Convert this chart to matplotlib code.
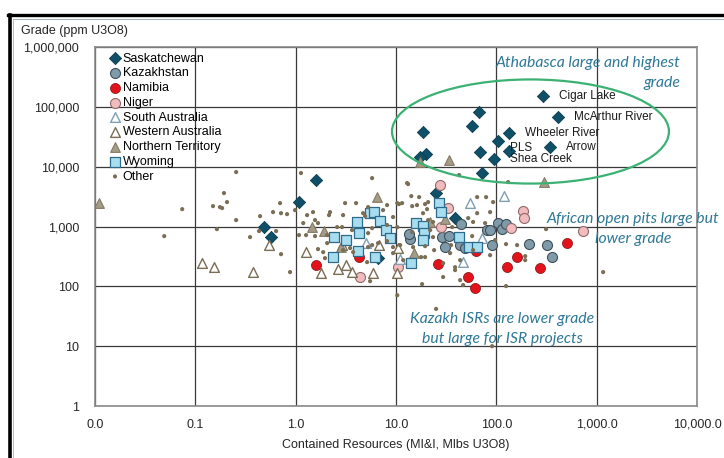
import matplotlib
matplotlib.use("Agg")
import matplotlib.pyplot as plt
from matplotlib.patches import Ellipse
from matplotlib.lines import Line2D

plt.rcParams['font.family'] = ['Liberation Sans', 'DejaVu Sans']

# ---- data (Mlbs U3O8 contained, grade ppm U3O8) ----
sask_x = [1.6, 1.08, 0.48, 0.57, 6.6, 25, 39, 18.6, 20, 17.5, 57, 67, 69, 72, 104,
          95, 134, 134, 293, 413, 344]
sask_y = [6000, 2560, 980, 665, 300, 3600, 1400, 38000, 16000, 14500, 47000, 82000, 17500, 7800, 27000,
          13400, 36500, 18200, 150000, 67500, 21300]
# names of the last six Saskatchewan deposits
sask_names = ['Shea Creek', 'Wheeler River', 'PLS', 'Cigar Lake', 'McArthur River', 'Arrow']

kaz_x = [13.8, 13.6, 29, 34, 31, 43, 44, 49, 81, 87, 91, 104, 114, 125, 212, 320, 360]
kaz_y = [615, 750, 665, 690, 450, 490, 1100, 435, 870, 870, 490, 1140, 900, 1100, 510, 490, 310]

nam_x = [1.6, 4.3, 26, 52, 62, 63, 128, 161, 273, 508]
nam_y = [225, 310, 235, 143, 93, 390, 210, 310, 200, 530]

nig_x = [27.5, 33, 28, 10.5, 4.4, 185, 189, 141, 730]
nig_y = [4900, 2000, 1000, 210, 143, 1800, 1400, 940, 840]

sa_x = [55, 120, 47, 72, 11, 5]
sa_y = [2450, 3200, 255, 640, 285, 530]

wa_x = [0.117, 0.152, 0.38, 0.54, 1.27, 1.8, 2.65, 3.2, 3.65, 5.9, 6.8, 10.3, 10.5, 2.9]
wa_y = [245, 210, 173, 490, 375, 166, 195, 225, 173, 166, 490, 166, 435, 490]

nt_x = [0.011, 1.46, 1.9, 2.8, 6.5, 15, 17.4, 34, 22, 31, 300]
nt_y = [2460, 1000, 840, 450, 3100, 360, 12000, 13000, 1200, 1330, 5500]

wy_x = [2.36, 2.4, 3.2, 4.1, 4.3, 4.2, 5.5, 6.0, 6.9, 8.0, 8.7, 6.2, 16, 18.6, 19, 18.6, 14,
        27, 28, 42, 54, 64]
wy_y = [310, 665, 590, 1180, 775, 390, 1680, 1750, 1230, 870, 640, 310, 1140, 1020, 775, 590, 245,
        2450, 1750, 665, 450, 450]

oth_x = [0.049, 0.074, 0.150, 0.176, 0.185, 0.193, 0.207, 0.164, 0.255, 0.255, 0.351, 0.442, 0.432,
         0.638, 0.595, 0.699, 0.715, 0.821, 0.715, 0.879, 1.13, 0.986, 1.08, 1.27, 1.19, 1.30, 1.49,
         1.56, 1.67, 1.56, 1.67, 1.88, 1.96, 2.20, 2.15, 2.06, 2.59, 3.11, 4.00, 2.97, 4.92, 5.27,
         5.78, 2.90, 2.06, 3.49, 3.74, 5.27, 5.15, 5.52, 8.15, 10.3, 10.7, 8.15, 6.63, 9.35, 9.35,
         10.3, 14.2, 17.0, 14.5, 19.5, 18.6, 20.9, 23.4, 24.0, 29.5, 29.5, 18.2, 25.1, 13.2, 19.5,
         11.0, 11.8, 17.8, 35.4, 43.6, 38.8, 43.6, 58.7, 57.4, 64.4, 79.1, 64.4, 5.78, 12.9, 11.5,
         20.9, 16.2, 20.4, 4.70, 7.43, 9.35, 8.15, 10.3, 23.4, 14.5, 21.9, 36.3, 14.8, 19.5, 34.6,
         38.8, 46.7, 5.27, 5.78, 3.65, 2.97, 42.6, 131, 92.9, 86.7, 52.4, 58.7, 313, 125, 161, 194,
         194, 86.7, 125, 77.3, 97.3, 1160, 90.8]
oth_y = [691, 1950, 2190, 2110, 2030, 3620, 2560, 905, 1280, 8130, 665, 1490, 838,
         838, 1740, 2460, 1670, 1610, 345, 173, 7820, 1880, 718, 718, 1140, 1550, 1740,
         1280, 1140, 691, 419, 373, 296, 1740, 1550, 718, 977, 2460, 2460, 1550, 1490, 2110,
         940, 977, 528, 436, 373, 453, 254, 122, 2280, 2460, 2370, 570, 528, 453, 359,
         71, 3220, 3100, 2190, 2370, 1670, 1280, 665, 403, 244, 143, 109, 42, 5120, 470,
         489, 274, 308, 489, 274, 187, 127, 403, 691, 1670, 3100, 3100, 6440, 5320, 2460,
         2560, 2280, 1950, 1670, 1880, 1440, 1060, 977, 1190, 806, 871, 977, 453, 308, 359,
         209, 105, 776, 489, 871, 403, 7240, 5530, 2560, 1740, 1380, 1190, 905, 508, 489, 320,
         274, 332, 101, 1140, 593, 173, 10]

x_ticks = [0.01, 0.1, 1, 10, 100, 1000, 10000]
x_labels = ['0.0', '0.1', '1.0', '10.0', '100.0', '1,000.0', '10,000.0']
y_ticks = [1, 10, 100, 1000, 10000, 100000, 1000000]
y_labels = ['1', '10', '100', '1,000', '10,000', '100,000', '1,000,000']

fig = plt.figure(figsize=(7.24, 4.58), dpi=100)
ax = fig.add_axes([0.1312, 0.1135, 0.8315, 0.7839])

ax.scatter(sask_x, sask_y, marker='D', s=6.2**2, c='#0F5068', edgecolors='#0A3C4E', linewidths=0.6,
           label='Saskatchewan', zorder=3)
ax.scatter(kaz_x, kaz_y, marker='o', s=7.2**2, c='#7F9BAA', edgecolors='#3E4F5A', linewidths=0.8,
           label='Kazakhstan', zorder=3)
ax.scatter(nam_x, nam_y, marker='o', s=7.2**2, c='#E3121B', edgecolors='#8B2020', linewidths=0.6,
           label='Namibia', zorder=3)
ax.scatter(nig_x, nig_y, marker='o', s=7.2**2, c='#F2BCBE', edgecolors='#8E6A6A', linewidths=0.8,
           label='Niger', zorder=3)
ax.scatter(sa_x, sa_y, marker='^', s=7**2, c='white', edgecolors='#7F9FB5', linewidths=1.0,
           label='South Australia', zorder=3)
ax.scatter(wa_x, wa_y, marker='^', s=7**2, c='white', edgecolors='#7A6C55', linewidths=1.0,
           label='Western Australia', zorder=3)
ax.scatter(nt_x, nt_y, marker='^', s=7**2, c='#A59C88', edgecolors='#857A64', linewidths=0.8,
           label='Northern Territory', zorder=3)
ax.scatter(wy_x, wy_y, marker='s', s=7**2, c='#A8DDF0', edgecolors='#2E6B8A', linewidths=0.9,
           label='Wyoming', zorder=3)
ax.scatter(oth_x, oth_y, marker='o', s=3.0**2, c='#7A6E55', edgecolors='none',
           label='Other', zorder=4)

# deposit names
offsets = {'PLS': (1, 2)}
n0 = len(sask_x) - len(sask_names)
for i, name in enumerate(sask_names):
    dx, dy = offsets.get(name, (11.5, 0))
    ax.annotate(name, (sask_x[n0 + i], sask_y[n0 + i]), xytext=(dx, dy), textcoords='offset points',
                ha='left', va='center', fontsize=8.5, color='#1a1a1a', zorder=5)

ax.set_xscale('log')
ax.set_yscale('log')
ax.set_xlim(0.01, 10000)
ax.set_ylim(1, 1000000)
ax.set_xticks(x_ticks)
ax.set_xticklabels(x_labels)
ax.set_yticks(y_ticks)
ax.set_yticklabels(y_labels)
ax.minorticks_off()
ax.tick_params(axis='both', length=0, labelsize=9, colors='#262626')
ax.tick_params(axis='y', pad=11.5)
ax.tick_params(axis='x', pad=9)
ax.grid(True, color='#3a3a3a', lw=0.9)
ax.set_axisbelow(True)
for sp in ax.spines.values():
    sp.set_color('#8a8a8a')
    sp.set_linewidth(1.2)

ax.set_xlabel('Contained Resources (MI&I, Mlbs U3O8)', fontsize=9, color='#262626', labelpad=6)
fig.text(21 / 724, 1 - 31 / 458, 'Grade (ppm U3O8)', fontsize=9, color='#262626', ha='left', va='center')

ax.legend(loc='upper left', bbox_to_anchor=(0.026, 0.984), frameon=False, fontsize=9,
          handlelength=0.7, handletextpad=0.25, labelspacing=0.22, borderpad=0, borderaxespad=0,
          scatterpoints=1)

# comments
note_c = '#2E7896'
note_kw = dict(transform=ax.transAxes, fontsize=11.3, style='italic', family='Lato', color=note_c,
               linespacing=1.58, zorder=6, va='center')
ax.text(0.972, 0.9276, 'Athabasca large and highest\ngrade', ha='right', multialignment='right', **note_kw)
ax.text(0.894, 0.493, 'African open pits large but\nlower grade', ha='center', **note_kw)
ax.text(0.676, 0.2145, 'Kazakh ISRs are lower grade\nbut large for ISR projects', ha='center', **note_kw)

ax.add_patch(Ellipse((0.7234, 0.7646), 0.460, 0.290, transform=ax.transAxes, fill=False,
                     edgecolor='#3BB273', lw=1.6, zorder=6, clip_on=False))

# slide frame
fig.add_artist(Line2D([8 / 724, 1], [1 - 14.5 / 458] * 2, color='black', lw=2.4))
fig.add_artist(Line2D([9.5 / 724] * 2, [0, 1 - 14.5 / 458], color='black', lw=2.6))
fig.add_artist(Line2D([12.5 / 724, 1], [1 - 18.5 / 458] * 2, color='#9fb0bf', lw=0.7))
fig.add_artist(Line2D([12.5 / 724] * 2, [0, 1 - 18.5 / 458], color='#b0b0b0', lw=0.6))

fig.savefig('out.png', dpi=100)
